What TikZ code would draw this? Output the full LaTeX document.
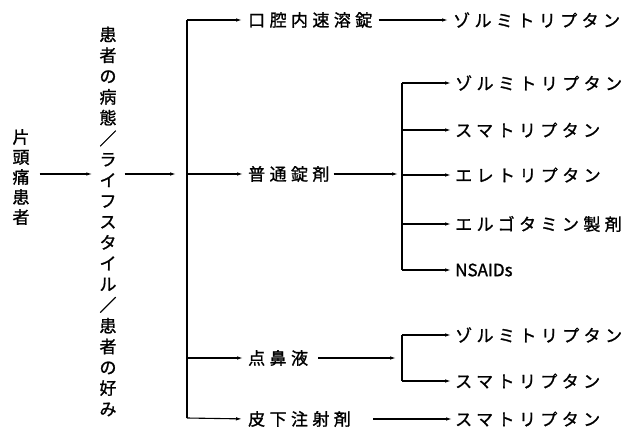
\documentclass[tikz,border=0pt]{standalone}
\usepackage{fontspec}
\newfontfamily\jp[FakeBold=1.2]{Noto Sans CJK JP}
\newfontfamily\jps[LetterSpace=26,FakeBold=1.2]{Noto Sans CJK JP}
\usetikzlibrary{arrows.meta,calc}
\begin{document}
\begin{tikzpicture}[x=1pt,y=-1pt,
  lab/.style={font=\jps\fontsize{17}{20}\selectfont, inner sep=0pt, anchor=west},
  latin/.style={font=\jp\fontsize{17}{20}\selectfont, inner sep=0pt, anchor=west},
  vlabA/.style={font=\jp\fontsize{17}{20}\selectfont, inner sep=0pt, align=center},
  vlabB/.style={font=\jp\fontsize{17}{20.8}\selectfont, inner sep=0pt, align=center},
  ln/.style={line width=1.1pt},
  arr/.style={ln,-{Latex[length=6pt,width=3.5pt]}}
]
\useasboundingbox[fill=white] (0,0) rectangle (640,436);

% vertical texts
\node[vlabA] (pt) at (21,177) {片\\頭\\痛\\患\\者};
\node[vlabB] (cond) at (108,221.5) {患\\者\\の\\病\\態\\／\\ラ\\イ\\フ\\ス\\タ\\イ\\ル\\／\\患\\者\\の\\好\\み};

% coordinates
\coordinate (m) at (0,174);
\coordinate (s1) at (187,20);
\coordinate (s5) at (187,418);
\coordinate (t) at (402,0);

% first-level
\node[lab] (oral) at (248,20) {口腔内速溶錠};
\node[lab] (tab)  at (248,174) {普通錠剤};
\node[lab] (nasal) at (248,358) {点鼻液};
\node[lab] (inj) at (248,419) {皮下注射剤};

% second-level
\node[lab] (z0) at (453,20) {ゾルミトリプタン};
\node[lab] (a1) at (455,83) {ゾルミトリプタン};
\node[lab] (a2) at (455,130) {スマトリプタン};
\node[lab] (a3) at (455,175) {エレトリプタン};
\node[lab] (a4) at (455,224) {エルゴタミン製剤};
\node[latin] (a5) at (455,270) {NSAIDs};
\node[lab] (b1) at (455,335) {ゾルミトリプタン};
\node[lab] (b2) at (455,381) {スマトリプタン};
\node[lab] (c1) at (455,419) {スマトリプタン};

% connectors
\draw[arr, shorten <=10pt, shorten >=7pt] (pt.east |- m) -- (cond.west |- m);
\draw[arr, shorten <=8pt, shorten >=11pt] (cond.east |- m) -- (s1 |- m);
\draw[ln] (s1) -- (s5);
\draw[arr, shorten >=6pt] (s1) -- (oral.west);
\draw[arr, shorten >=5pt] (s1 |- tab) -- (tab.west);
\draw[arr, shorten >=5pt] (s1 |- nasal) -- (nasal.west);
\draw[arr, shorten >=6pt] (s5) -- (inj.west);

\draw[arr, shorten <=6pt, shorten >=5pt] (oral.east) -- (z0.west);
\draw[arr, shorten <=4pt, shorten >=4pt] (tab.east) -- (t |- tab);
\draw[ln] (t |- a1) -- (t |- a5);
\foreach \n in {a1,a2,a3,a4,a5} \draw[arr, shorten >=4pt] (t |- \n) -- (\n.west);

\draw[arr, shorten <=10pt, shorten >=6pt] (nasal.east) -- (t |- nasal);
\draw[ln] (t |- b1) -- (t |- b2);
\foreach \n in {b1,b2} \draw[arr, shorten >=4pt] (t |- \n) -- (\n.west);

\draw[arr, shorten <=22pt, shorten >=3pt] (inj.east) -- (c1.west);
\end{tikzpicture}
\end{document}
